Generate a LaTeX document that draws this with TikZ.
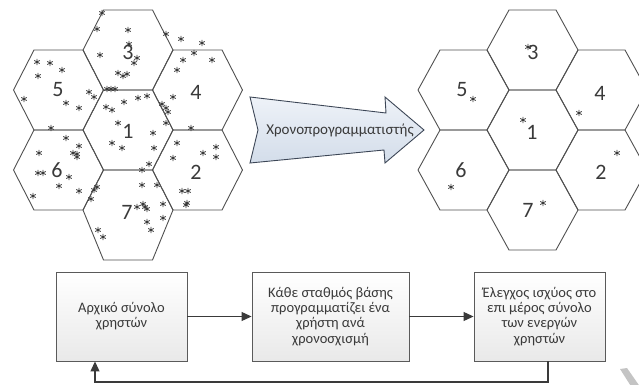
\documentclass[tikz,border=0pt]{standalone}
\usepackage{fontspec}
\setmainfont{Carlito}
\usetikzlibrary{arrows.meta}
\definecolor{inkgray}{HTML}{3A3A3A}
\definecolor{hexgray}{HTML}{505050}
\definecolor{arrowfillA}{HTML}{EEF2F8}
\definecolor{arrowfillB}{HTML}{D3DDEA}
\definecolor{arrowedge}{HTML}{3C4656}
\definecolor{boxedge}{HTML}{5A5A5A}
\definecolor{boxfillB}{HTML}{E9E9E9}
\definecolor{markgray}{HTML}{C4C4C4}
% hexagon: centre (#1,#2), half width #3, half top edge #4, upper half height #5, lower half height #6
\newcommand\hexat[6]{%
  \draw[hexline] (#1-#3,#2) -- (#1-#4,#2-#5) -- (#1+#4,#2-#5) -- (#1+#3,#2)
    -- (#1+#4,#2+#6) -- (#1-#4,#2+#6) -- cycle;}
\tikzset{
  hexline/.style={draw=hexgray,line width=0.9pt,line join=round},
  cellnum/.style={text=inkgray,font=\fontsize{22}{22}\selectfont,inner sep=0pt},
  usrline/.style={draw=inkgray,line width=0.75pt},
  usr/.pic={\draw[usrline] (0,-3.2)--(0,3.2) (-2.8,-1.6)--(2.8,1.6) (-2.8,1.6)--(2.8,-1.6);},
  procbox/.style={draw=boxedge,line width=0.9pt,top color=white,bottom color=boxfillB,
    text=inkgray,align=center,font=\fontsize{14.5}{15.2}\selectfont,inner sep=2pt,
    minimum height=89pt},
  flow/.style={draw=inkgray,line width=1.1pt,-{Triangle[length=10pt,width=9pt]}},
}
\begin{document}
\begin{tikzpicture}[x=1pt,y=-1pt]
\useasboundingbox (0,0) rectangle (639,385);
\begin{scope}
\clip (0,0) rectangle (639,385);
% cell cluster before scheduling
\hexat{128}{130}{45}{24.5}{40}{40}
\hexat{128}{50}{45}{24.5}{40}{40}
\hexat{128}{210}{45}{24.5}{40}{50}
\hexat{58.5}{90}{45}{24.5}{40}{40}
\hexat{58.5}{170}{45}{24.5}{40}{40}
\hexat{197.5}{90}{45}{24.5}{40}{40}
\hexat{197.5}{170}{45}{24.5}{40}{40}
\node[cellnum] (l3) at (128,52) {3};
\node[cellnum] (l5) at (58,90) {5};
\node[cellnum] (l4) at (196,92) {4};
\node[cellnum] (l1) at (128,131) {1};
\node[cellnum] (l6) at (57,170) {6};
\node[cellnum] (l2) at (196,172) {2};
\node[cellnum] (l7) at (127,212) {7};
\foreach \p in {(102,13),(97,29),(128,30),(166,34),(181,39),(202,43),(100,55),(129,44),
  (137,58),(134,63),(194,53),(183,60),(212,60),(177,70),(118,73),(123,76),(127,74),
  (37,62),(50,63),(62,70),(38,76),(24,99),(89,92),(94,97),(66,103),(79,108),
  (107,89),(111,89),(115,89),(124,102),(138,98),(147,96),(173,97),(162,104),(166,108),
  (168,112),(106,107),(112,110),(118,123),(166,123),(153,133),(191,128),(51,128),
  (66,138),(79,146),(73,153),(77,154),(77,157),(39,153),(38,173),(43,173),(69,177),
  (59,186),(79,191),(33,196),(112,143),(122,148),(154,148),(177,143),(173,158),
  (203,153),(216,147),(216,157),(149,164),(142,170),(97,187),(94,190),(91,199),
  (142,185),(157,185),(182,191),(188,191),(187,203),(137,207),(143,204),(145,207),
  (147,209),(163,204),(163,218),(147,222),(151,230),(98,230),(103,237),(186,205)}
  \pic at \p {usr};
% cell cluster after scheduling
\hexat{532.5}{130}{45.5}{23.5}{40}{40}
\hexat{532.5}{50}{45.5}{23.5}{40}{40}
\hexat{532.5}{210}{45.5}{23.5}{40}{40}
\hexat{463.5}{90}{45.5}{23.5}{40}{40}
\hexat{463.5}{170}{45.5}{23.5}{40}{40}
\hexat{601.5}{90}{45.5}{23.5}{40}{40}
\hexat{601.5}{170}{45.5}{23.5}{40}{40}
\node[cellnum] (r3) at (533,52) {3};
\node[cellnum] (r5) at (462,90) {5};
\node[cellnum] (r4) at (600,93) {4};
\node[cellnum] (r1) at (532,132) {1};
\node[cellnum] (r6) at (461,170) {6};
\node[cellnum] (r2) at (601,172) {2};
\node[cellnum] (r7) at (528,210) {7};
\foreach \p in {(528,47),(473,99),(523,120),(579,113),(617,153),(451,187),(543,203)}
  \pic at \p {usr};
% light grey stroke in the lower right corner
\fill[markgray] (620,369) -- (627,368) -- (643,391) -- (634,391) -- cycle;
\end{scope}
% scheduler arrow
\path[draw=arrowedge,line width=0.9pt,line join=miter,top color=arrowfillA,bottom color=arrowfillB]
  (250,97) -- (386,113) -- (385,97) -- (424,130) -- (385,163) -- (384,150)
  -- (250,163) -- (258,130) -- cycle;
\node[text=inkgray,font=\fontsize{15}{16}\selectfont,inner sep=0pt] (sched) at (340,130)
  {Χρονοπρογραμματιστής};
% process flow
\node[procbox,minimum width=131pt] (b1) at (121.5,316.5)
  {Αρχικό σύνολο\\χρηστών};
\node[procbox,minimum width=157pt] (b2) at (330.5,316.5)
  {Κάθε σταθμός βάσης\\προγραμματίζει ένα\\χρήστη ανά\\χρονοσχισμή};
\node[procbox,minimum width=131pt] (b3) at (539.5,316.5)
  {Έλεγχος ισχύος στο\\επι μέρος σύνολο\\των ενεργών\\χρηστών};
\coordinate (fbr) at (548,382);
\coordinate (fbl) at (95,382);
\draw[flow] (b1.east) -- (b2.west);
\draw[flow] (b2.east) -- (b3.west);
\draw[flow] (b3.south -| fbr) -- (fbr) -- (fbl) -- (fbl |- b1.south);
\end{tikzpicture}
\end{document}
